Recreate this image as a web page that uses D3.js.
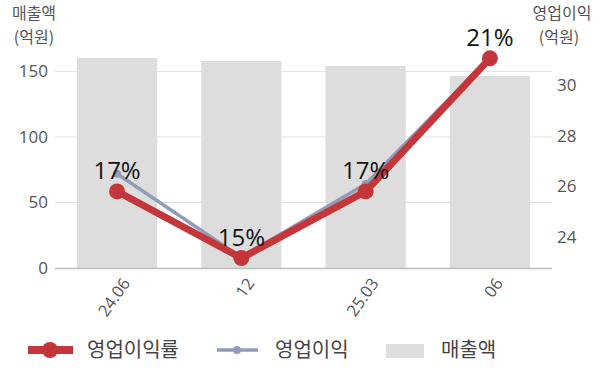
<!DOCTYPE html>
<html><head><meta charset="utf-8">
<script src="https://cdn.jsdelivr.net/npm/d3@7"></script>
<style>body{margin:0;background:#fff}svg{display:block;font-family:"Noto Sans CJK KR","Noto Sans",sans-serif}</style>
</head><body><svg id="c" width="600" height="383"></svg>
<script>
const categories = ["24.06", "12", "25.03", "06"];
const revenue = [160.3, 158, 154.2, 146.6];          // 매출액 (억원)
const opIncome = [26.5, 23.2, 26.1, 31.1];           // 영업이익 (억원)
const opMargin = [17.0, 15.0, 17.0, 21.0];           // 영업이익률 (%)
const leftTicks = [0, 50, 100, 150];
const rightTicks = [24, 26, 28, 30];

const svg = d3.select("#c");
const L = 55, R = 552, T = 40, B = 268;
const x = d3.scaleBand().domain(categories).range([L, R]).paddingInner(0.355).paddingOuter(0.177);
const yL = d3.scaleLinear().domain([0, 174]).range([B, T]);
const yR = d3.scaleLinear().domain([22.78, 31.78]).range([B, T]);
const yP = d3.scaleLinear().domain([14.7, 21.55]).range([B, T]);
const red = "#c4363a", gray = "#909bb8", barC = "#dddddd";

// gridlines
svg.append("g").selectAll("line").data(leftTicks.filter(d => d > 0)).join("line")
  .attr("x1", L).attr("x2", R).attr("y1", d => yL(d)).attr("y2", d => yL(d))
  .attr("stroke", "#e3e3e3").attr("stroke-width", 1);

// bars
svg.append("g").selectAll("rect").data(revenue).join("rect")
  .attr("x", (d, i) => x(categories[i])).attr("width", x.bandwidth())
  .attr("y", d => yL(d)).attr("height", d => B - yL(d)).attr("fill", barC);

// baseline
svg.append("line").attr("x1", L).attr("x2", R).attr("y1", B + 0.5).attr("y2", B + 0.5)
  .attr("stroke", "#bdbdbd").attr("stroke-width", 1.5);

// left axis labels
const axL = d3.axisLeft(yL).tickValues(leftTicks).tickSize(0).tickPadding(0);
const gL = svg.append("g").attr("transform", `translate(48,0)`).call(axL);
gL.select(".domain").remove();
gL.selectAll("text").attr("font-size", 17).attr("fill", "#555").attr("font-family", "'Open Sans','Noto Sans',sans-serif");

// right axis labels
const axR = d3.axisRight(yR).tickValues(rightTicks).tickSize(0).tickPadding(0);
const gR = svg.append("g").attr("transform", `translate(557,0)`).call(axR);
gR.select(".domain").remove();
gR.selectAll("text").attr("font-size", 17).attr("fill", "#555").attr("font-family", "'Open Sans','Noto Sans',sans-serif");

// axis titles
const titles = [
  {t: "매출액", x: 34, y: 19}, {t: "(억원)", x: 34, y: 43},
  {t: "영업이익", x: 562, y: 19}, {t: "(억원)", x: 559, y: 43}
];
svg.append("g").selectAll("text").data(titles).join("text")
  .attr("x", d => d.x).attr("y", d => d.y).attr("text-anchor", "middle")
  .attr("fill", "#555").attr("font-size", 16).text(d => d.t);

// x labels
svg.append("g").selectAll("text").data(categories).join("text")
  .attr("transform", d => `translate(${x(d) + x.bandwidth() / 2 + 9},${B + 12}) rotate(-55)`)
  .attr("text-anchor", "end").attr("dy", "0.35em")
  .attr("font-size", 16.5).attr("fill", "#555").attr("font-family", "'Open Sans','Noto Sans',sans-serif")
  .text(d => d);

const cx = i => x(categories[i]) + x.bandwidth() / 2;

// op income line (gray)
svg.append("path").datum(opIncome)
  .attr("d", d3.line().x((d, i) => cx(i)).y(d => yR(d)))
  .attr("fill", "none").attr("stroke", gray).attr("stroke-width", 3.5);
svg.append("g").selectAll("circle").data(opIncome).join("circle")
  .attr("cx", (d, i) => cx(i)).attr("cy", d => yR(d)).attr("r", 4).attr("fill", gray);

// margin line (red)
svg.append("path").datum(opMargin)
  .attr("d", d3.line().x((d, i) => cx(i)).y(d => yP(d)))
  .attr("fill", "none").attr("stroke", red).attr("stroke-width", 7);
svg.append("g").selectAll("circle").data(opMargin).join("circle")
  .attr("cx", (d, i) => cx(i)).attr("cy", d => yP(d)).attr("r", 8).attr("fill", red);

// labels
svg.append("g").selectAll("text").data(opMargin).join("text")
  .attr("x", (d, i) => cx(i)).attr("y", d => yP(d) - 12)
  .attr("text-anchor", "middle").attr("font-size", 24).attr("fill", "#111")
  .attr("font-family", "'Open Sans','Noto Sans',sans-serif")
  .text(d => d3.format(".0f")(d) + "%");

// legend
const lg = svg.append("g").attr("font-size", 20).attr("fill", "#444");
lg.append("line").attr("x1", 28).attr("x2", 73).attr("y1", 350).attr("y2", 350).attr("stroke", red).attr("stroke-width", 8);
lg.append("circle").attr("cx", 50).attr("cy", 350).attr("r", 8).attr("fill", red);
lg.append("text").attr("x", 87).attr("y", 357).text("영업이익률");
lg.append("line").attr("x1", 217).attr("x2", 258).attr("y1", 350).attr("y2", 350).attr("stroke", gray).attr("stroke-width", 3.5);
lg.append("circle").attr("cx", 237).attr("cy", 350).attr("r", 4).attr("fill", gray);
lg.append("text").attr("x", 275).attr("y", 357).text("영업이익");
lg.append("rect").attr("x", 386).attr("y", 344).attr("width", 38).attr("height", 14).attr("fill", barC);
lg.append("text").attr("x", 441).attr("y", 357).text("매출액");
</script></body></html>
